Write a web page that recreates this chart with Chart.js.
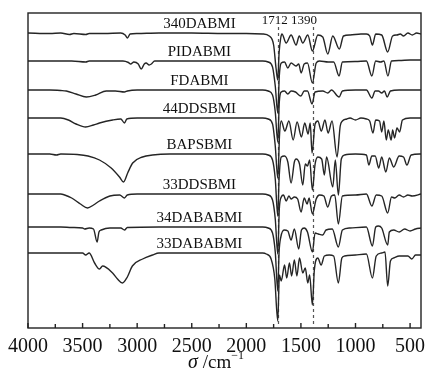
<!DOCTYPE html>
<html lang="zh">
<head>
  <meta charset="UTF-8">
  <title>FTIR spectra</title>
  <script src="https://cdn.jsdelivr.net/npm/chart.js"></script>
  <style>
    body {
      margin: 0;
      background: #fff;
    }
    canvas {
      display: block;
    }
  </style>
</head>
<body>

<canvas id="ftir" width="429" height="371"></canvas>

<script>
// sample names, top to bottom
const names = ['340DABMI', 'PIDABMI', 'FDABMI', '44DDSBMI', 'BAPSBMI', '33DDSBMI', '34DABABMI', '33DABABMI'];
// vertical offset of each trace (baseline level)
const offsets = [295, 267, 238, 210, 174, 134, 101, 75];
// marked bands, cm-1
const bands = [1712, 1390];
const xTicks = [4000, 3500, 3000, 2500, 2000, 1500, 1000, 500];

// spectra as [wavenumber, absorption depth below baseline]
const s340DABMI = [[4000,0],[3800,0.5],[3700,0],[3620,1.5],[3580,0.5],[3470,1.5],[3440,0.5],[3300,0.5],[3150,0],[3110,2],[3089,5],[3065,1],[3000,0.5],[2800,0],[2500,0],[2200,0.5],[2000,0.5],[1850,1],[1790,3],[1750,12],[1728,35],[1712,47],[1700,20],[1685,5],[1674,1],[1635,10],[1590,2],[1544,12],[1515,3],[1483,10],[1437,2],[1395,18],[1345,2],[1300,4],[1254,21],[1208,3],[1148,16],[1110,3],[1050,2],[950,1],[900,1],[870,3],[845,12],[815,1],[760,2],[705,19],[660,3],[620,2],[590,1],[560,3],[520,0],[480,2],[440,0],[400,1]];
const sPIDABMI = [[4000,0],[3800,0],[3600,0],[3470,1],[3440,0],[3130,0],[3080,1.5],[3060,3],[3030,1],[2990,3],[2963,8],[2935,3],[2918,2],[2890,4],[2870,3],[2840,0],[2500,0],[2000,0],[1850,0],[1800,1],[1760,6],[1735,25],[1712,52],[1698,15],[1680,2],[1650,1],[1620,7],[1590,2],[1545,5],[1520,3],[1498,12],[1470,3],[1440,2],[1395,22],[1360,2],[1330,0],[1250,1],[1200,1],[1150,15],[1120,1],[1000,0.5],[900,0],[850,15],[815,0],[770,1],[740,0],[703,15],[670,0],[600,-0.5],[500,-1],[400,-1]];
const sFDABMI = [[4000,0],[3800,0],[3700,0.5],[3649,1],[3560,4],[3466,7],[3380,5],[3283,1],[3200,1],[3116,2],[3090,1],[3000,0],[2500,0],[2000,0],[1850,0],[1800,1],[1760,5],[1735,22],[1712,52],[1698,12],[1680,2],[1650,1],[1620,4],[1590,1],[1550,2],[1500,6],[1470,1],[1440,1],[1398,14],[1370,2],[1300,1],[1254,3],[1220,0],[1150,7],[1120,1],[1000,0],[900,0],[850,8],[820,1],[790,1],[760,3],[735,1],[710,7],[680,1],[600,0],[400,0]];
const s44DDSBMI = [[4000,0],[3700,0],[3630,2],[3560,6],[3472,9],[3400,7],[3345,5],[3225,2],[3150,1],[3116,5],[3095,1],[3000,0],[2500,0],[2000,0],[1850,0],[1800,1],[1760,6],[1735,28],[1712,60],[1695,15],[1680,3],[1647,13],[1610,3],[1571,22],[1535,4],[1495,19],[1465,5],[1434,16],[1415,5],[1398,35],[1370,6],[1345,3],[1313,13],[1280,2],[1251,15],[1215,3],[1169,39],[1140,8],[1120,3],[1080,1],[1050,0],[1000,2],[950,0],[900,1],[870,3],[840,15],[815,2],[780,3],[760,14],[740,3],[718,22],[700,12],[673,22],[660,12],[642,20],[620,10],[596,14],[570,2],[500,0],[400,0]];
const sBAPSBMI = [[4000,0],[3800,0],[3740,1],[3700,0],[3550,0.5],[3450,2],[3345,6],[3238,14],[3162,23],[3125,28],[3087,19],[3041,9],[2951,3],[2860,1],[2700,0],[2000,0],[1850,0],[1800,1],[1760,6],[1735,25],[1712,62],[1700,25],[1680,3],[1650,2],[1620,8],[1590,29],[1560,8],[1544,5],[1513,10],[1483,31],[1460,10],[1440,12],[1420,6],[1395,36],[1370,10],[1345,3],[1310,5],[1285,21],[1265,3],[1208,33],[1185,6],[1157,41],[1130,5],[1100,1],[1000,0],[900,1],[878,11],[850,2],[820,2],[787,14],[760,3],[722,18],[690,4],[650,13],[600,2],[560,3],[529,11],[490,1],[400,0]];
const s33DDSBMI = [[4000,0],[3700,0],[3664,1],[3600,4],[3520,10],[3454,14],[3400,11],[3345,7],[3250,2],[3160,1],[3116,4],[3090,1],[3000,0],[2500,0],[2000,0],[1850,0],[1800,1],[1760,6],[1735,25],[1712,60],[1698,15],[1680,3],[1660,1],[1635,7],[1610,2],[1590,5],[1560,3],[1530,5],[1498,18],[1470,4],[1443,10],[1425,4],[1395,20],[1360,5],[1330,1],[1290,2],[1254,13],[1220,2],[1190,1],[1157,30],[1120,2],[1000,1],[900,0],[850,12],[810,1],[760,2],[705,19],[670,3],[640,4],[600,1],[560,3],[520,1],[480,2],[400,0]];
const s34DABABMI = [[4000,0],[3700,0],[3600,0.5],[3500,1],[3481,2],[3440,1],[3400,2],[3367,15],[3350,5],[3329,3],[3250,1],[3150,1],[3116,3],[3090,0.5],[2800,0],[2000,0],[1850,0],[1800,1],[1760,6],[1735,25],[1712,64],[1700,25],[1684,10],[1654,3],[1620,4],[1590,13],[1560,2],[1520,22],[1495,3],[1470,1],[1440,5],[1395,25],[1370,6],[1340,7],[1300,8],[1270,3],[1213,2],[1157,20],[1120,3],[1050,1],[900,0],[845,19],[815,0],[790,-1],[760,1],[705,18],[690,5],[650,3],[600,5],[550,2],[500,4],[450,2],[400,1]];
const s33DABABMI = [[4000,0],[3600,0],[3500,0],[3472,2],[3440,0],[3390,10],[3345,16],[3317,13],[3225,20],[3180,26],[3135,30],[3090,24],[3044,13],[2950,6],[2860,2],[2800,0],[2000,0],[1850,0],[1817,1],[1773,6],[1740,25],[1712,68],[1697,22],[1680,28],[1650,12],[1630,25],[1605,10],[1585,23],[1560,7],[1537,23],[1513,5],[1483,20],[1460,15],[1437,30],[1420,22],[1395,52],[1377,17],[1345,5],[1315,12],[1285,3],[1240,2],[1200,3],[1157,30],[1125,5],[1100,3],[1000,2],[900,1],[845,25],[810,3],[760,0],[730,-1],[705,33],[680,8],[650,5],[600,3],[520,3],[484,6],[450,2],[400,2]];

const spectra = [s340DABMI, sPIDABMI, sFDABMI, s44DDSBMI, sBAPSBMI, s33DDSBMI, s34DABABMI, s33DABABMI];

const serif = '"Liberation Serif", "DejaVu Serif", serif';

// frame, inward ticks, labels and dashed band markers
const decor = {
  id: 'decor',
  beforeDatasetsDraw(chart) {
    const { ctx, chartArea, scales: { x } } = chart;
    ctx.save();
    ctx.strokeStyle = '#555';
    ctx.lineWidth = 1.2;
    ctx.setLineDash([3, 3]);
    bands.forEach(b => {
      const px = Math.round(x.getPixelForValue(b)) + 0.5;
      ctx.beginPath();
      ctx.moveTo(px, chartArea.top + 14);
      ctx.lineTo(px, chartArea.bottom - 4);
      ctx.stroke();
    });
    ctx.restore();
  },
  afterDraw(chart) {
    const { ctx, chartArea, scales: { x, y } } = chart;
    ctx.save();
    ctx.strokeStyle = '#222';
    ctx.lineWidth = 1.4;
    ctx.strokeRect(chartArea.left, chartArea.top, chartArea.right - chartArea.left, chartArea.bottom - chartArea.top);

    // ticks pointing up from the bottom edge
    for (let v = 4000; v >= 500; v -= 250) {
      const px = x.getPixelForValue(v);
      ctx.beginPath();
      ctx.moveTo(px, chartArea.bottom);
      ctx.lineTo(px, chartArea.bottom - (v % 500 === 0 ? 5 : 4));
      ctx.stroke();
    }

    ctx.fillStyle = '#111';
    ctx.font = '20px ' + serif;
    ctx.textAlign = 'center';
    ctx.textBaseline = 'middle';
    xTicks.forEach(t => ctx.fillText(String(t), x.getPixelForValue(t), chartArea.bottom + 19));

    // axis title: sigma /cm^-1
    const ty = chartArea.bottom + 35;
    ctx.textAlign = 'left';
    const a = 'σ', b = ' /cm', c = '−1';
    ctx.font = 'italic 20px ' + serif;
    const wa = ctx.measureText(a).width;
    ctx.font = '19px ' + serif;
    const wb = ctx.measureText(b).width;
    ctx.font = '12px ' + serif;
    const wc = ctx.measureText(c).width;
    let tx = 216 - (wa + wb + wc) / 2;
    ctx.font = 'italic 20px ' + serif;
    ctx.fillText(a, tx, ty);
    tx += wa;
    ctx.font = '19px ' + serif;
    ctx.fillText(b, tx, ty);
    tx += wb;
    ctx.font = '12px ' + serif;
    ctx.fillText(c, tx, ty - 7);

    // band labels
    ctx.font = '13px ' + serif;
    ctx.textAlign = 'center';
    ctx.fillText('1712', x.getPixelForValue(bands[0]) - 3, chartArea.top + 8);
    ctx.fillText('1390', x.getPixelForValue(bands[1]) - 9, chartArea.top + 8);

    // sample names above each trace
    ctx.font = '15px ' + serif;
    names.forEach((n, i) => {
      ctx.fillText(n, x.getPixelForValue(2430), y.getPixelForValue(offsets[i]) - 9);
    });
    ctx.restore();
  }
};

new Chart(document.getElementById('ftir'), {
  type: 'line',
  data: {
    datasets: spectra.map((s, i) => ({
      label: names[i],
      data: s.map(p => ({ x: p[0], y: offsets[i] - p[1] })),
      borderColor: '#252525',
      borderWidth: 1.4,
      pointRadius: 0,
      cubicInterpolationMode: 'monotone',
      fill: false
    }))
  },
  options: {
    responsive: false,
    animation: false,
    devicePixelRatio: 1,
    layout: { padding: { left: 28, top: 13, right: 8, bottom: 43 } },
    plugins: {
      legend: { display: false },
      tooltip: { enabled: false }
    },
    scales: {
      x: { type: 'linear', reverse: true, min: 400, max: 4000, display: false },
      y: { min: 0, max: 315, display: false }
    }
  },
  plugins: [decor]
});
</script>

</body>
</html>
